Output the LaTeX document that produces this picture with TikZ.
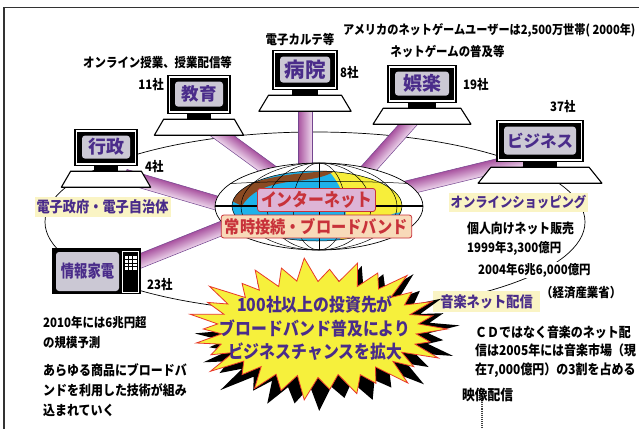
\documentclass[tikz,border=0pt]{standalone}
\usepackage{fontspec}
\usetikzlibrary{calc}

\newfontfamily\jp[FakeStretch=0.88]{Noto Sans CJK JP}
\newfontfamily\jpw{Noto Sans CJK JP}
\newfontfamily\jpn[FakeStretch=0.78]{Noto Sans CJK JP}

\definecolor{screengray}{HTML}{CBC8D4}
\definecolor{txtpurple}{HTML}{4A2C8A}
\definecolor{labelyellow}{HTML}{FAF4C4}
\definecolor{banddark}{HTML}{A8529F}
\definecolor{bandlight}{HTML}{EDD6EC}
\definecolor{bandedge}{HTML}{74458F}
\definecolor{netred}{HTML}{C8323A}
\definecolor{netpink}{HTML}{DDB4D6}
\definecolor{netpeach}{HTML}{F8DAB9}
\definecolor{burstyellow}{HTML}{F6F03C}
\definecolor{burstred}{HTML}{E8382A}
\definecolor{globecyan}{HTML}{1EB2EA}
\definecolor{globeyellow}{HTML}{F7EE3A}
\definecolor{globebrown}{HTML}{8A4A22}
\definecolor{framegray}{HTML}{333333}

\pgfdeclarelayer{paper}
\pgfdeclarelayer{ring}
\pgfdeclarelayer{bands}
\pgfsetlayers{paper,ring,bands,main}

\tikzset{
  txt/.style={inner sep=0pt, text=black, font=\jp\bfseries\fontsize{13}{15}\selectfont},
  sz/.style 2 args={font=\jp\bfseries\fontsize{#1}{#2}\selectfont},
  tag/.style={fill=labelyellow, text=txtpurple, inner xsep=2pt, inner ysep=2.5pt},
  netbox/.style={draw=netred, line width=0.8pt, rounded corners=2.5pt, text=netred,
    inner xsep=3.5pt, inner ysep=2pt, minimum height=23pt,
    font=\jp\bfseries\fontsize{18}{18}\selectfont},
  monbox/.style={draw=black, line width=1.2pt, fill=white, inner sep=0pt},
  monline/.style={draw=black, line width=1.1pt, fill=white, line join=round},
  screen/.style={fill=screengray, rounded corners=3pt, inner sep=0pt, text=txtpurple},
  bandstyle/.style={top color=banddark, bottom color=bandlight, draw=bandedge, line width=0.5pt},
  wire/.style={draw=black, line width=0.5pt},
}

% a shaded band of constant width running from one named point to another
\newcommand\drawband[2]{%
  \path let \p1=($(#2)-(#1)$) in
    \pgfextra{\pgfmathsetmacro\bandlen{veclen(\x1,\y1)}%
              \pgfmathsetmacro\bandang{atan2(\y1,\x1)}%
              \global\let\bandlen\bandlen \global\let\bandang\bandang};
  \shadedraw[bandstyle, transform canvas={shift={(#1)}, rotate=\bandang}]
    (0pt,-7pt) rectangle (\bandlen pt,7pt);
}

% desktop monitor: name, centre x, top y, width, height, screen text
\newcommand\monitor[6]{%
  \node[monbox, minimum width=#4, minimum height=#5, anchor=north] (#1) at (#2,#3) {};
  \fill ($(#1.north west)+(3,3)$) rectangle ($(#1.south east)+(-3,-3)$);
  \node[screen, minimum width={#4-14}, minimum height={#5-13}] (#1scr)
    at ($(#1.center)+(0,-0.5)$) {#6};
  \fill ($(#1.south)+({-0.2*#4},-1)$) rectangle ($(#1.south)+({0.2*#4},5.5)$);
  \draw[monline] ($(#1.south)+({-0.57*#4},5)$) -- ($(#1.south)+({0.57*#4},5)$)
    -- ($(#1.south)+({0.72*#4},21)$) -- ($(#1.south)+({-0.72*#4},21)$) -- cycle;
}

% outline of the star burst around the origin
\newcommand\burstoutline{%
  ({104*0.97*cos(-6)},{50*0.97*sin(-6)})
  \foreach \k/\f/\g in {0/1.06/0.95,1/0.94/0.98,2/1.08/0.93,3/0.97/0.97,4/1.10/0.94,
      5/0.95/1.00,6/1.03/0.93,7/0.92/0.97,8/1.08/0.95,9/0.98/0.99,10/1.04/0.93,
      11/0.93/0.96,12/1.09/0.94,13/0.96/0.98,14/1.02/0.93,15/0.94/0.97,16/1.07/0.95,
      17/0.99/1.00,18/1.10/0.94,19/0.93/0.96,20/1.03/0.93,21/0.97/0.98,22/1.08/0.95,
      23/0.91/0.97,24/1.05/0.93,25/0.98/0.99,26/1.09/0.94,27/0.95/0.96,28/1.02/0.93,
      29/0.96/0.97}{
    -- ({122*\f*cos(\k*12)},{66*\f*sin(\k*12)})
    -- ({104*\g*cos(\k*12+6)},{50*\g*sin(\k*12+6)})
  } -- cycle}

\begin{document}
\begin{tikzpicture}[x=1pt,y=-1pt]
\useasboundingbox (0,0) rectangle (639,428);
\begin{pgfonlayer}{paper}
  \fill[white] (0,0) rectangle (639,428);
\end{pgfonlayer}

% page frame
\draw[framegray, line width=1.3pt] (4,432) -- (4,7.5) -- (645,7.5);

\coordinate (globe) at (319,206.5);
\coordinate (ring) at (315,222);

% large ring joining all sectors
\begin{pgfonlayer}{ring}
  \draw[line width=0.7pt] (ring) ellipse [x radius=270pt, y radius=90pt];
\end{pgfonlayer}

% ---------------- globe ----------------
\draw[wire, fill=white, line width=0.7pt] (globe) ellipse [x radius=104pt, y radius=43.5pt];
\begin{scope}
  \clip (317,206) ellipse [x radius=85pt, y radius=35pt];
  \fill[globecyan] (230,168) rectangle (405,244);
  \fill[globeyellow] (326,168) .. controls (346,188) and (352,215) .. (338,244)
    -- (405,244) -- (405,168) -- cycle;
  \fill[globebrown] (230,200) .. controls (236,185) and (262,178) .. (295,174)
    -- (336,170) .. controls (326,178) and (306,180) .. (288,182)
    .. controls (268,185) and (252,190) .. (242,206) -- cycle;
  \fill[globecyan] (378,224) .. controls (388,214) and (398,211) .. (405,213)
    -- (405,244) -- (372,244) -- cycle;
\end{scope}
\draw[wire] (317,206) ellipse [x radius=85pt, y radius=35pt];
\foreach \r in {26,52,78}{
  \draw[wire] (globe) ellipse [x radius=\r pt, y radius=43.5pt];
}
\draw[wire] (319,163) -- (319,250);
\begin{scope}
  \clip (globe) ellipse [x radius=104pt, y radius=43.5pt];
  \draw[wire] (210,185) .. controls (270,180) and (370,180) .. (430,185);
  \draw[wire] (210,228) .. controls (270,233) and (370,233) .. (430,228);
\end{scope}
\draw[line width=1.3pt] (215,206) -- (423,206);

\node[netbox, fill=netpink] (inet) at (316.5,200) {インターネット};
\node[netbox, fill=netpeach, font=\jp\bfseries\fontsize{17.3}{17.3}\selectfont]
  (always) at (316.5,226.5) {常時接続・ブロードバンド};

% ---------------- terminals ----------------
\monitor{gyosei}{106}{129}{62}{36}{\jpw\bfseries\fontsize{18}{18}\selectfont 行政}
\monitor{kyoiku}{199}{75}{62}{38}{\jpw\bfseries\fontsize{17.5}{18}\selectfont 教育}
\monitor{byoin}{305}{50}{64}{39}{\jpw\bfseries\fontsize{20.5}{20}\selectfont 病院}
\monitor{goraku}{422}{65}{68}{37}{\jpw\bfseries\fontsize{19}{19}\selectfont 娯楽}
\monitor{biz}{540}{120}{86}{41}{\jpw\bfseries\fontsize{16.5}{17}\selectfont ビジネス}

% television set
\node[fill=black, minimum width=89, minimum height=46, inner sep=0pt] (kaden) at (96.5,271) {};
\node[screen, minimum width=63, minimum height=39, font=\jpn\bfseries\fontsize{17}{17}\selectfont]
  (kadenscr) at (87.5,271.5) {情報家電};
\draw[white, line width=0.8pt, fill=black] (122.5,251.5) rectangle (138,292);
\fill[white] (124.5,256) rectangle (136.5,270);
\foreach \gx in {128.5,132.5}{\draw[line width=0.5pt] (\gx,256) -- (\gx,270);}
\foreach \gy in {259.5,263,266.5}{\draw[line width=0.5pt] (124.5,\gy) -- (136.5,\gy);}

% ---------------- bands from each sector to the globe ----------------
\coordinate (gyoseiFoot) at ($(gyosei.south)+(19,10)$);
\coordinate (gyoseiEnd)  at ($(globe)+(-19,21)$);
\coordinate (kadenFoot)  at ($(kaden.east)+(-21,-2)$);
\coordinate (kadenEnd)   at ($(globe)+(-19,-9.5)$);
\coordinate (kyoikuFoot) at ($(kyoiku.south)+(6,9)$);
\coordinate (kyoikuEnd)  at ($(globe)+(-2,-1.5)$);
\coordinate (byoinFoot)  at ($(byoin.south)+(0,6)$);
\coordinate (byoinEnd)   at ($(globe)+(-14,-6.5)$);
\coordinate (gorakuFoot) at ($(goraku.south)+(-2,8)$);
\coordinate (gorakuEnd)  at ($(globe)+(17,-1.5)$);
\coordinate (bizFoot)    at ($(biz.south)+(5,-8)$);
\coordinate (bizEnd)     at ($(globe)+(1,2.5)$);
\begin{pgfonlayer}{bands}
  \drawband{gyoseiFoot}{gyoseiEnd}
  \drawband{kadenFoot}{kadenEnd}
  \drawband{kyoikuFoot}{kyoikuEnd}
  \drawband{byoinEnd}{byoinFoot}
  \drawband{gorakuEnd}{gorakuFoot}
  \drawband{bizEnd}{bizFoot}
\end{pgfonlayer}

% ---------------- captions ----------------
\node[txt, anchor=west] (eduNote) at (83,63) {オンライン授業、授業配信等};
\node[txt, anchor=east] (eduCount) at (164,85) {11社};
\node[txt] (hospNote) at (300,40) {電子カルテ等};
\node[txt, anchor=west] (hospCount) at (340,73) {8社};
\node[txt, sz={12.7}{15}, anchor=west] (gameStat) at (343,30) {アメリカのネットゲームユーザーは2,500万世帯( 2000年)};
\node[txt] (gameNote) at (447.5,52) {ネットゲームの普及等};
\node[txt, anchor=west] (gameCount) at (463,85) {19社};
\node[txt, anchor=west] (bizCount) at (550,107) {37社};
\node[txt, anchor=west] (govCount) at (145,167) {4社};
\node[txt, anchor=west] (tvCount) at (147,285) {23社};

\node[tag, sz={15}{15}] (govTag) at (102.5,207) {電子政府・電子自治体};
\node[tag, sz={14}{14}, inner xsep=1.5pt] (shopTag) at (518.5,202.5) {オンラインショッピング};
\node[tag, sz={15}{15}, inner xsep=7pt, inner ysep=3.5pt] (musicTag) at (486.5,301.5) {音楽ネット配信};

\node[txt, sz={13.5}{15}, anchor=west] (shopA) at (467,228) {個人向けネット販売};
\node[txt, anchor=west] (shopB) at (467,248) {1999年3,300億円};
\node[txt, anchor=west, fill=white, inner sep=1pt] (shopC) at (477,270) {2004年6兆6,000億円};
\node[txt, anchor=west] (shopD) at (541,293) {（経済産業省）};

\node[txt, sz={13.6}{18.5}, anchor=west, align=left] (musicNote) at (475,351.5)
  {ＣＤではなく音楽のネット配\\信は2005年には音楽市場（現\\在7,000億円）の3割を占める};
\node[txt, sz={14.5}{15}, anchor=west] (eizo) at (462,395) {映像配信};
\coordinate (eizoEnd) at (482,432);
\draw[densely dotted, line width=1.1pt, black!75] (eizo.south -| eizoEnd) -- (eizoEnd);

\node[txt, anchor=west, align=left, sz={13}{20}] (tvNote) at (43,333)
  {2010年には6兆円超\\の規模予測};
\node[txt, anchor=west, align=left, sz={13.6}{20}] (tvNote2) at (43,390)
  {あらゆる商品にブロードバ\\ンドを利用した技術が組み\\込まれていく};

% ---------------- star burst ----------------
\begin{scope}[shift={(327,337)}, rotate=5, scale=1.03]
  \fill[black] \burstoutline;
\end{scope}
\begin{scope}[shift={(318,329)}]
  \filldraw[fill=burstyellow, draw=burstred, line width=0.8pt, line join=miter] \burstoutline;
\end{scope}
\node[inner sep=0pt, align=center, text=txtpurple, font=\jp\bfseries\fontsize{18}{23.5}\selectfont]
  (burstText) at (315,328.5)
  {100社以上の投資先が\\ブロードバンド普及により\\ビジネスチャンスを拡大};

\end{tikzpicture}
\end{document}
